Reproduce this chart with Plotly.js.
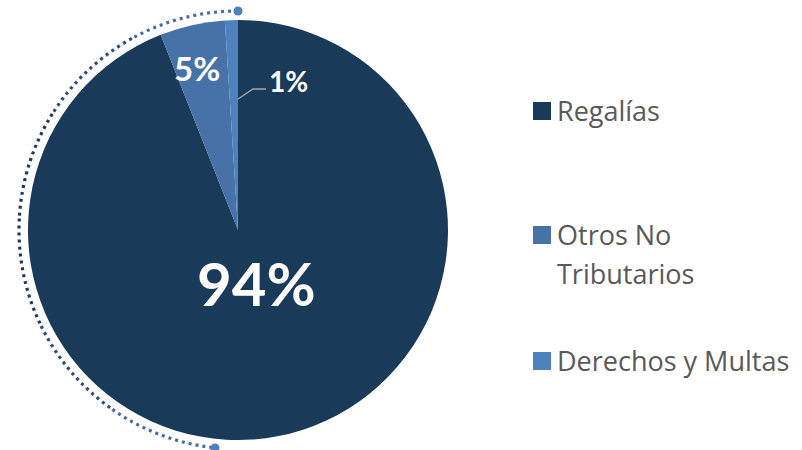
<!DOCTYPE html>
<html>
<head>
<meta charset="utf-8">
<script src="https://cdn.plot.ly/plotly-3.0.1.min.js"></script>
<style>html,body{margin:0;padding:0;background:#fff;}#chart{width:802px;height:450px;}</style>
</head>
<body>
<div id="chart"></div>
<script>
// ---- data ----
const categories = ['Regalías', 'Otros No Tributarios', 'Derechos y Multas'];
const legendLabels = ['Regalías', 'Otros No<br>Tributarios', 'Derechos y Multas'];
const values = [94, 5, 1];
const colors = ['#1a3a5a', '#4672a8', '#4f81bd'];

// ---- geometry helpers (pixels -> paper) ----
const W = 802, H = 450;
const px = x => x / W;
const py = y => 1 - y / H;

const cx = 238, cy = 230, R = 210;

const trace = {
  type: 'pie',
  labels: categories,
  values: values,
  sort: false,
  direction: 'clockwise',
  rotation: 0,
  marker: {colors: colors, line: {width: 0}},
  textinfo: 'none',
  hoverinfo: 'label+percent',
  showlegend: false,
  domain: {x: [px(cx - R), px(cx + R)], y: [py(cy + R), py(cy - R)]}
};

// decorative dotted arc (left side)
const shapes = [];
const arcR = 219;
const startDeg = 0, endDeg = 174, nSeg = 6;
const segColors = ['#4a6d9c', '#2f4d78', '#1f3a60', '#1f3a60', '#2f4d78', '#4a6d9c'];
function pt(phi) { return [cx - arcR * Math.sin(phi), cy - arcR * Math.cos(phi)]; }
function tan(phi) { return [-Math.cos(phi), Math.sin(phi)]; }
for (let i = 0; i < nSeg; i++) {
  const a0 = (startDeg + (endDeg - startDeg) * i / nSeg) * Math.PI / 180;
  const a1 = (startDeg + (endDeg - startDeg) * (i + 1) / nSeg) * Math.PI / 180;
  const k = 4 / 3 * Math.tan((a1 - a0) / 4) * arcR;
  const p0 = pt(a0), p1 = pt(a1), t0 = tan(a0), t1 = tan(a1);
  const c0 = [p0[0] + k * t0[0], p0[1] + k * t0[1]];
  const c1 = [p1[0] - k * t1[0], p1[1] - k * t1[1]];
  const path = `M ${px(p0[0])},${py(p0[1])} C ${px(c0[0])},${py(c0[1])} ${px(c1[0])},${py(c1[1])} ${px(p1[0])},${py(p1[1])}`;
  shapes.push({type: 'path', xref: 'paper', yref: 'paper', path: path,
    line: {color: segColors[i], width: 3.2, dash: '3px,4px'}});
}
// end dots
[[238, 11], [215, 448]].forEach(p => {
  const r = 4.5;
  shapes.push({type: 'circle', xref: 'paper', yref: 'paper',
    x0: px(p[0] - r), x1: px(p[0] + r), y0: py(p[1] + r), y1: py(p[1] - r),
    fillcolor: '#4f81bd', line: {width: 0}});
});
// leader line for smallest slice
shapes.push({type: 'path', xref: 'paper', yref: 'paper',
  path: `M ${px(238)},${py(99)} L ${px(253)},${py(89)} L ${px(266)},${py(89)}`,
  line: {color: '#a6a6a6', width: 1.5}});

// legend squares
const legendY = [111, 235, 361];
legendY.forEach((y, i) => {
  shapes.push({type: 'rect', xref: 'paper', yref: 'paper',
    x0: px(533), x1: px(551), y0: py(y + 9), y1: py(y - 9),
    fillcolor: colors[i], line: {width: 0}});
});

const annotations = [];
// slice labels
const labelPos = [[256, 283, 60], [197, 68, 33], [288, 81, 28]];
values.forEach((v, i) => {
  annotations.push({xref: 'paper', yref: 'paper', x: px(labelPos[i][0]), y: py(labelPos[i][1]),
    xanchor: 'center', yanchor: 'middle', showarrow: false, text: '<b>' + v + '%</b>',
    font: {family: 'Lato, sans-serif', size: labelPos[i][2], color: '#ffffff'}});
});
// legend labels (each line placed separately for wider line spacing)
legendLabels.forEach((t, i) => {
  t.split('<br>').forEach((line, j) => {
    annotations.push({xref: 'paper', yref: 'paper', x: px(555), y: py(legendY[i] - 1 + j * 39),
      xanchor: 'left', yanchor: 'middle', align: 'left', showarrow: false, text: line,
      font: {family: '"Open Sans", sans-serif', size: 27, color: '#595959'}});
  });
});

const layout = {
  width: W, height: H,
  margin: {l: 0, r: 0, t: 0, b: 0},
  paper_bgcolor: '#ffffff',
  showlegend: false,
  shapes: shapes,
  annotations: annotations
};

Plotly.newPlot('chart', [trace], layout, {displayModeBar: false, staticPlot: true});
</script>
</body>
</html>
